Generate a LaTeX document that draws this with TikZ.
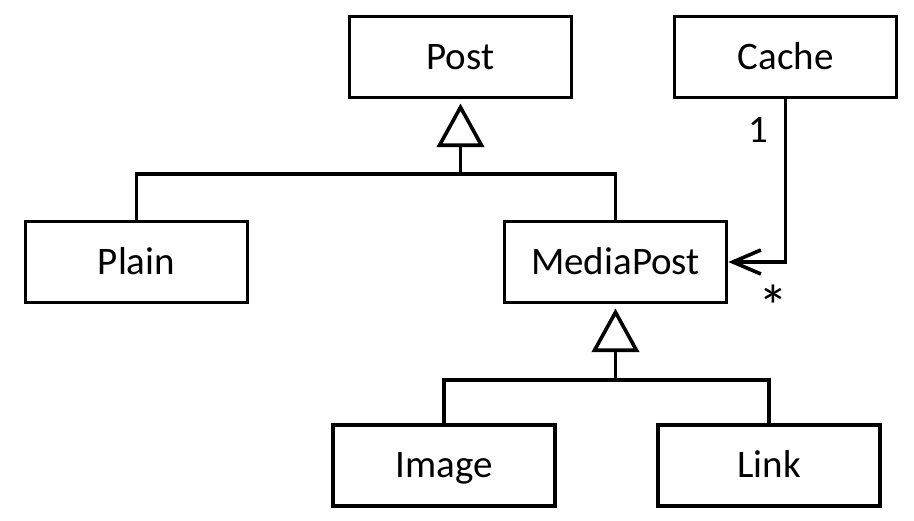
\documentclass[tikz,border=0pt]{standalone}
\usepackage{fontspec}
\setmainfont{Carlito}
\usetikzlibrary{arrows.meta}
\begin{document}
\begin{tikzpicture}[x=1pt,y=1pt, line width=3.6pt,
  cls/.style={draw, minimum width=222pt, minimum height=81pt, inner sep=0pt,
    text height=24.6pt, text depth=0pt, font=\fontsize{39}{46}\selectfont},
  lbl/.style={inner sep=0pt, font=\fontsize{39}{46}\selectfont},
  gen/.style={draw, fill=white, line join=miter}]
\useasboundingbox (0,0) rectangle (914,521);
\node[cls] (post) at (460.5,464) {Post};
\node[cls] (cache) at (785.5,464) {Cache};
\node[cls] (plain) at (136.5,259) {Plain};
\node[cls] (media) at (615.5,259) {MediaPost};
\node[cls] (image) at (444,55.5) {Image};
\node[cls] (link) at (769,55.5) {Link};
% generalization Post
\coordinate (a1) at ([yshift=-8pt]post.south);
\draw[gen] (a1) -- ++(21,-38) -- ++(-42,0) -- cycle;
\coordinate (b1) at ([yshift=-38pt]a1);
\coordinate (j1) at ([yshift=-29pt]b1);
\draw (b1) -- (j1);
\draw (plain.north) |- (j1) -| (media.north);
% generalization MediaPost
\coordinate (a2) at ([yshift=-8pt]media.south);
\draw[gen] (a2) -- ++(21,-38) -- ++(-42,0) -- cycle;
\coordinate (b2) at ([yshift=-38pt]a2);
\coordinate (j2) at ([yshift=-30pt]b2);
\draw (b2) -- (j2);
\draw (image.north) |- (j2) -| (link.north);
% association
\draw[-{Straight Barb[length=28pt,width=24pt]}] (cache.south) |- (media.east);
\node[lbl, anchor=base] (one) at (758,378) {1};
\node[inner sep=0pt, anchor=center, font=\fontsize{60}{66}\selectfont] (many) at (773,215) {*};
\end{tikzpicture}
\end{document}
